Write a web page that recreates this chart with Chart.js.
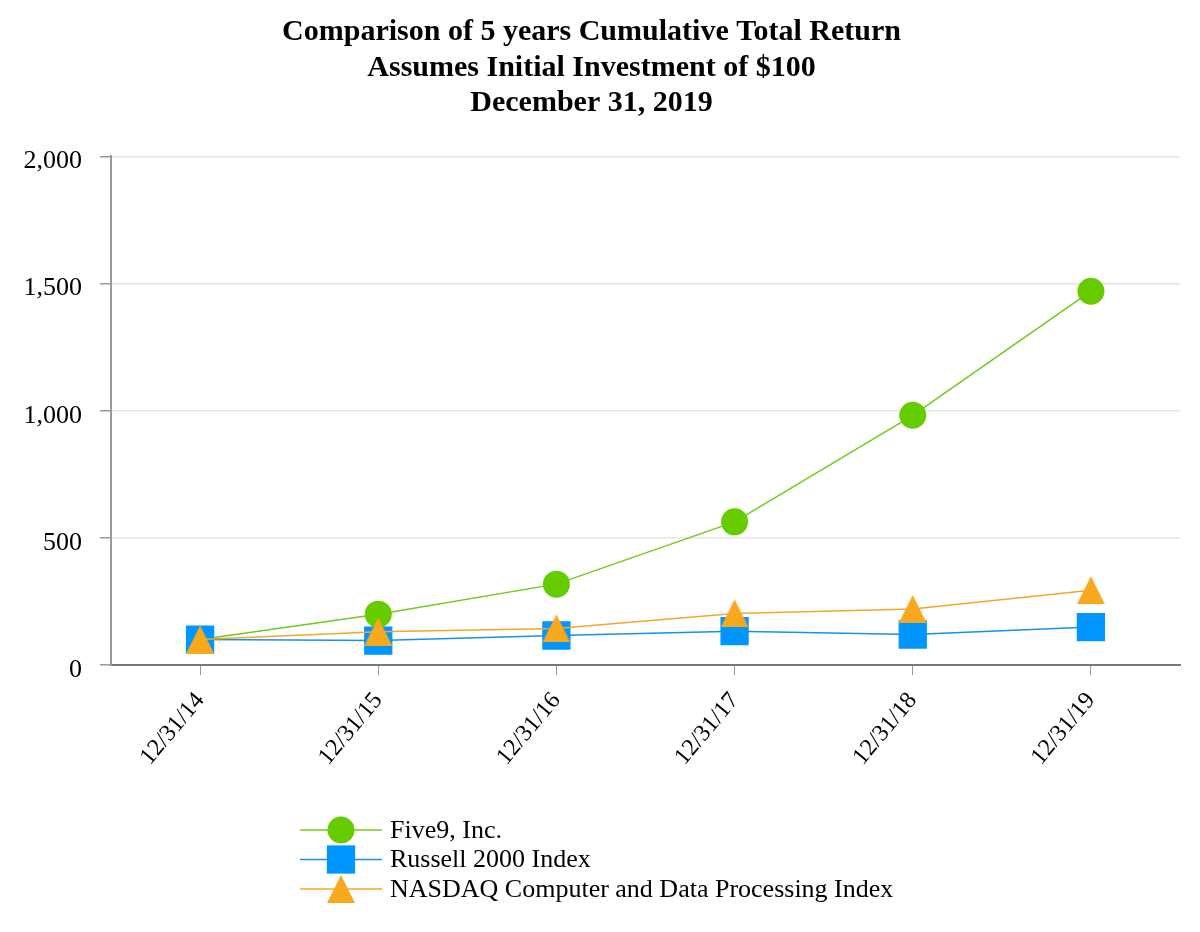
<!DOCTYPE html>
<html>
<head>
<meta charset="utf-8">
<script src="https://cdn.jsdelivr.net/npm/chart.js@4.4.0/dist/chart.umd.min.js"></script>
<style>
  html, body { margin: 0; padding: 0; background: #fff; }
  #wrap { width: 1200px; height: 932px; }
</style>
</head>
<body>
<div id="wrap"><canvas id="line-chart" width="1200" height="932"></canvas></div>
<script>
const years = ['12/31/14', '12/31/15', '12/31/16', '12/31/17', '12/31/18', '12/31/19']
const five9 = [100, 200, 318, 563, 982, 1470]
const russell = [100, 96, 116, 133, 120, 149]
const nasdaq = [100, 131, 144, 203, 220, 294]
const yTicks = [0, 500, 1000, 1500, 2000]
const titleLines = ['Comparison of 5 years Cumulative Total Return', 'Assumes Initial Investment of $100', 'December 31, 2019']

const serif = "'Liberation Serif', 'Times New Roman', serif"

// triangle marker centred on its box, like the original
function makeTriangle(size, color) {
  const c = document.createElement('canvas')
  c.width = size
  c.height = size
  const t = c.getContext('2d')
  t.fillStyle = color
  t.beginPath()
  t.moveTo(size / 2, 0)
  t.lineTo(size, size)
  t.lineTo(0, size)
  t.closePath()
  t.fill()
  return c
}
const triangle = makeTriangle(28, '#f8a81c')

// legend drawn as a vertical list under the axis
const listLegend = {
  id: 'listLegend',
  afterDraw(chart) {
    const ctx = chart.ctx
    const sets = chart.data.datasets
    ctx.save()
    sets.forEach((ds, i) => {
      const y = 830 + i * 29.5
      ctx.strokeStyle = ds.borderColor
      ctx.lineWidth = 1.5
      ctx.beginPath()
      ctx.moveTo(300, y)
      ctx.lineTo(382, y)
      ctx.stroke()
      ctx.fillStyle = ds.pointBackgroundColor
      Chart.helpers.drawPoint(ctx, {
        pointStyle: ds.pointStyle,
        radius: ds.pointRadius,
        rotation: 0,
        borderWidth: 0
      }, 341, y)
      ctx.fillStyle = '#000'
      ctx.font = '26px ' + serif
      ctx.textBaseline = 'middle'
      ctx.textAlign = 'left'
      ctx.fillText(ds.label, 390, y + 1)
    })
    ctx.restore()
  }
}

const ctx = document.getElementById('line-chart').getContext('2d')

new Chart(ctx, {
  type: 'line',
  data: {
    labels: years,
    datasets: [{
      label: 'Five9, Inc.',
      data: five9,
      borderColor: '#6fcc1a',
      pointBackgroundColor: '#66cc00',
      pointBorderWidth: 0,
      pointStyle: 'circle',
      pointRadius: 13.5,
      borderWidth: 1.5,
      order: 3
    }, {
      label: 'Russell 2000 Index',
      data: russell,
      borderColor: '#1a8fe8',
      pointBackgroundColor: '#0096ff',
      pointBorderWidth: 0,
      pointStyle: 'rect',
      pointRadius: 20,
      borderWidth: 1.5,
      order: 2
    }, {
      label: 'NASDAQ Computer and Data Processing Index',
      data: nasdaq,
      borderColor: '#f2a72a',
      pointBackgroundColor: '#f8a81c',
      pointBorderWidth: 0,
      pointStyle: triangle,
      pointRadius: 14,
      borderWidth: 1.5,
      order: 1
    }]
  },
  options: {
    responsive: false,
    animation: false,
    devicePixelRatio: 1,
    layout: {
      padding: { left: 0, right: 17, top: 0, bottom: 120 }
    },
    plugins: {
      legend: { display: false },
      tooltip: { enabled: false },
      title: {
        display: true,
        text: titleLines,
        color: '#000',
        font: { family: serif, size: 30, weight: 'bold', lineHeight: 1.183 },
        padding: { top: 15, bottom: 35 }
      }
    },
    scales: {
      x: {
        offset: true,
        border: { color: '#777', width: 2 },
        grid: {
          drawOnChartArea: false,
          drawTicks: true,
          tickLength: 10,
          tickColor: '#999'
        },
        ticks: {
          color: '#000',
          font: { family: serif, size: 24 },
          minRotation: 50,
          maxRotation: 50,
          padding: 12
        },
        afterFit: scale => { scale.height = 147 }
      },
      y: {
        min: 0,
        max: 2000,
        afterBuildTicks: scale => {
          scale.ticks = yTicks.map(v => ({ value: v }))
        },
        afterFit: scale => { scale.width = 111 },
        border: { color: '#999', width: 2 },
        grid: {
          color: '#e6e6e6',
          lineWidth: 1.5,
          tickLength: 11,
          tickColor: '#999'
        },
        ticks: {
          color: '#000',
          padding: 18,
          labelOffset: 5,
          font: { family: serif, size: 26 },
          callback: value => value.toLocaleString('en-US')
        }
      }
    }
  },
  plugins: [listLegend]
})
</script>
</body>
</html>
